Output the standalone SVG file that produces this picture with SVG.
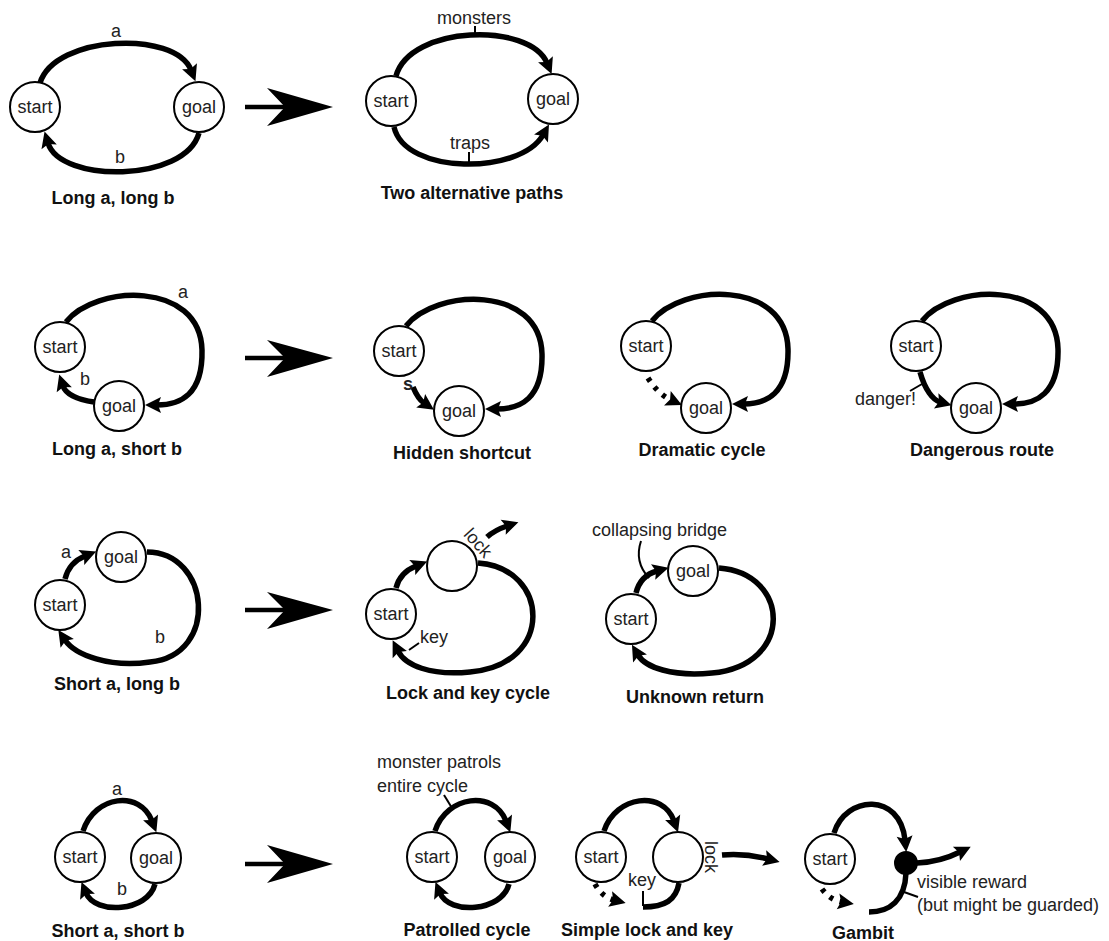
<svg xmlns="http://www.w3.org/2000/svg" width="1109" height="941" viewBox="0 0 1109 941">
<style>
.node circle{fill:#fff;stroke:#000;stroke-width:2}
.node circle.solid{fill:#000;stroke:#000;stroke-width:2}
text{font-family:"Liberation Sans",Arial,sans-serif;font-size:18px;fill:#222}
.node text{text-anchor:middle}
.title{font-weight:bold;text-anchor:middle;fill:#111}
.mid{text-anchor:middle}
.edge{fill:none;stroke:#000;stroke-width:5.5}
.arr{marker-end:url(#ah)}
.dot{stroke-dasharray:4 7}
.lead{fill:none;stroke:#000;stroke-width:2}
.big{stroke:#000;stroke-width:4.5;fill:none}
.bighead{fill:#000}
</style>
<defs>
<marker id="ah" markerUnits="userSpaceOnUse" orient="auto" refX="0" refY="0" markerWidth="24" markerHeight="24" style="overflow:visible">
<path d="M-4,-8 L12,0 L-4,8 L-1,0 Z" fill="#000"/>
</marker>
</defs>
<rect width="1109" height="941" fill="#fff"/>

<g id="connectors">
<!-- transformation arrows -->
<path class="big" d="M245,107 H288"/><polygon class="bighead" points="333,107 267,88 285,107 267,126"/>
<path class="big" d="M245,358 H288"/><polygon class="bighead" points="333,358 267,340 285,358 267,377"/>
<path class="big" d="M245,610 H288"/><polygon class="bighead" points="333,610 267,592 285,610 267,629"/>
<path class="big" d="M245,864 H288"/><polygon class="bighead" points="333,864 267,845 285,864 267,883"/>

<!-- Long a, long b -->
<path class="edge arr" d="M40,83 C55,35 175,30 191,70"/>
<path class="edge arr" d="M199,133 C185,183 60,183 48,143"/>
<!-- Two alternative paths -->
<path class="edge arr" d="M396,76 C410,25 530,22 547,63"/>
<path class="edge arr" d="M394,127 C405,175 520,175 543,135"/>
<path class="lead" d="M475,26 V37"/>
<path class="lead" d="M469,152 V164"/>

<!-- Long a, short b -->
<path class="edge arr" d="M66,322 C95,285 200,280 202,350 C203,395 180,405 157,405"/>
<path class="edge arr" d="M94,402 C80,400 66,395 63,386"/>
<!-- Hidden shortcut -->
<path class="edge arr" d="M406,326 C435,289 540,284 542,354 C543,399 520,409 497,409"/>
<path class="edge arr" d="M413,387 Q418,399 424,403"/>
<!-- Dramatic cycle -->
<path class="edge arr" d="M652,321 C681,284 786,279 788,349 C789,394 766,404 744,404"/>
<path class="edge dot arr" d="M648,378 Q658,394 671,400"/>
<!-- Dangerous route -->
<path class="edge arr" d="M922,321 C951,284 1056,279 1058,349 C1059,394 1036,404 1014,404"/>
<path class="edge arr" d="M920,372 C925,390 933,400 940,402"/>
<path class="lead" d="M910,391 L922,384"/>

<!-- Short a, long b -->
<path class="edge arr" d="M65,579 C68,567 75,560 85,556"/>
<path class="edge arr" d="M147,552 C210,552 220,655 150,662 C110,668 75,655 65,640"/>
<!-- Lock and key cycle -->
<path class="edge arr" d="M396,588 C399,576 406,570 416,566"/>
<path class="edge arr" d="M487,537 Q495,530 507,526"/>
<path class="edge arr" d="M478,563 C550,568 555,665 470,672 C430,676 405,665 398,651"/>
<path class="lead" d="M409,650 L419,643"/>
<!-- Unknown return -->
<path class="edge arr" d="M636,593 C639,581 646,574 657,571"/>
<path class="edge arr" d="M719,568 C790,573 795,665 712,673 C672,677 645,667 638,655"/>
<path class="lead" d="M641,541 Q634,562 649,578"/>

<!-- Short a, short b -->
<path class="edge arr" d="M83,831 C95,795 140,790 152,821"/>
<path class="edge arr" d="M155,884 C148,912 95,915 86,893"/>
<!-- Patrolled cycle -->
<path class="edge arr" d="M435,831 C447,795 494,790 506,821"/>
<path class="edge arr" d="M509,884 C502,912 449,915 440,893"/>
<path class="lead" d="M444,795 L452,808"/>
<!-- Simple lock and key -->
<path class="edge arr" d="M604,831 C616,795 663,790 674,821"/>
<path class="edge dot arr" d="M595,884 Q602,897 614,900"/>
<path class="edge" d="M679,883 C676,900 665,907 643,907"/>
<path class="lead" d="M643,891 V906"/>
<path class="edge arr" d="M722,855 Q745,853 768,859"/>
<!-- Gambit -->
<path class="edge arr" d="M834,833 C846,795 900,792 905,840"/>
<path class="edge arr" d="M917,863 Q940,862 960,852"/>
<path class="edge" d="M906,873 C905,900 890,912 869,912"/>
<path class="edge dot arr" d="M822,889 Q830,900 842,902"/>
<path class="lead" d="M904,892 L918,897"/>
</g>

<!-- Nodes -->
<g id="p1-start" class="node"><circle cx="35" cy="107" r="25"/><text x="35" y="113">start</text></g>
<g id="p1-goal" class="node"><circle cx="199" cy="107" r="25"/><text x="199" y="113">goal</text></g>
<g id="p2-start" class="node"><circle cx="391" cy="101" r="25"/><text x="391" y="107">start</text></g>
<g id="p2-goal" class="node"><circle cx="553" cy="99" r="25"/><text x="553" y="105">goal</text></g>

<g id="p3-start" class="node"><circle cx="60" cy="347" r="25"/><text x="60" y="353">start</text></g>
<g id="p3-goal" class="node"><circle cx="119" cy="406" r="25"/><text x="119" y="412">goal</text></g>
<g id="p4-start" class="node"><circle cx="399" cy="351" r="25"/><text x="399" y="357">start</text></g>
<g id="p4-goal" class="node"><circle cx="459" cy="411" r="25"/><text x="459" y="417">goal</text></g>
<g id="p5-start" class="node"><circle cx="646" cy="346" r="25"/><text x="646" y="352">start</text></g>
<g id="p5-goal" class="node"><circle cx="706" cy="408" r="25"/><text x="706" y="414">goal</text></g>
<g id="p6-start" class="node"><circle cx="916" cy="346" r="25"/><text x="916" y="352">start</text></g>
<g id="p6-goal" class="node"><circle cx="976" cy="408" r="25"/><text x="976" y="414">goal</text></g>

<g id="p7-start" class="node"><circle cx="60" cy="605" r="25"/><text x="60" y="611">start</text></g>
<g id="p7-goal" class="node"><circle cx="121" cy="557" r="25"/><text x="121" y="563">goal</text></g>
<g id="p8-start" class="node"><circle cx="391" cy="614" r="25"/><text x="391" y="620">start</text></g>
<g id="p8-lock" class="node"><circle cx="452" cy="566" r="25"/></g>
<g id="p9-start" class="node"><circle cx="631" cy="619" r="25"/><text x="631" y="625">start</text></g>
<g id="p9-goal" class="node"><circle cx="693" cy="571" r="25"/><text x="693" y="577">goal</text></g>

<g id="p10-start" class="node"><circle cx="80" cy="857" r="25"/><text x="80" y="863">start</text></g>
<g id="p10-goal" class="node"><circle cx="156" cy="858" r="25"/><text x="156" y="864">goal</text></g>
<g id="p11-start" class="node"><circle cx="432" cy="857" r="25"/><text x="432" y="863">start</text></g>
<g id="p11-goal" class="node"><circle cx="510" cy="857" r="25"/><text x="510" y="863">goal</text></g>
<g id="p12-start" class="node"><circle cx="601" cy="857" r="25"/><text x="601" y="863">start</text></g>
<g id="p12-lock" class="node"><circle cx="678" cy="857" r="25"/></g>
<g id="p13-start" class="node"><circle cx="830" cy="859" r="25"/><text x="830" y="865">start</text></g>
<g id="p13-reward" class="node"><circle class="solid" cx="906" cy="863" r="11"/></g>

<!-- Labels -->
<g id="labels">
<text class="mid" x="116" y="37">a</text>
<text class="mid" x="120" y="163">b</text>
<text class="mid" x="474" y="24">monsters</text>
<text class="mid" x="470" y="149">traps</text>
<text class="mid" x="183" y="298">a</text>
<text class="mid" x="85" y="385">b</text>
<text class="mid" x="408" y="390" font-weight="bold">s</text>
<text x="855" y="405">danger!</text>
<text class="mid" x="66" y="558">a</text>
<text class="mid" x="160" y="643">b</text>
<text class="mid" transform="translate(478,543) rotate(48)" x="0" y="6">lock</text>
<text x="420" y="643">key</text>
<text x="592" y="536">collapsing bridge</text>
<text class="mid" x="117" y="795">a</text>
<text class="mid" x="122" y="895">b</text>
<text x="377" y="768">monster patrols</text>
<text x="377" y="792">entire cycle</text>
<text x="628" y="886">key</text>
<text class="mid" transform="translate(705,857) rotate(90)" x="0" y="0">lock</text>
<text x="917" y="888">visible reward</text>
<text x="917" y="911">(but might be guarded)</text>
</g>

<g id="titles">
<text class="title" x="113" y="204">Long a, long b</text>
<text class="title" x="472" y="199">Two alternative paths</text>
<text class="title" x="117" y="455">Long a, short b</text>
<text class="title" x="462" y="459">Hidden shortcut</text>
<text class="title" x="702" y="456">Dramatic cycle</text>
<text class="title" x="982" y="456">Dangerous route</text>
<text class="title" x="117" y="690">Short a, long b</text>
<text class="title" x="468" y="699">Lock and key cycle</text>
<text class="title" x="695" y="703">Unknown return</text>
<text class="title" x="118" y="937">Short a, short b</text>
<text class="title" x="467" y="936">Patrolled cycle</text>
<text class="title" x="647" y="936">Simple lock and key</text>
<text class="title" x="863" y="939">Gambit</text>
</g>
</svg>
